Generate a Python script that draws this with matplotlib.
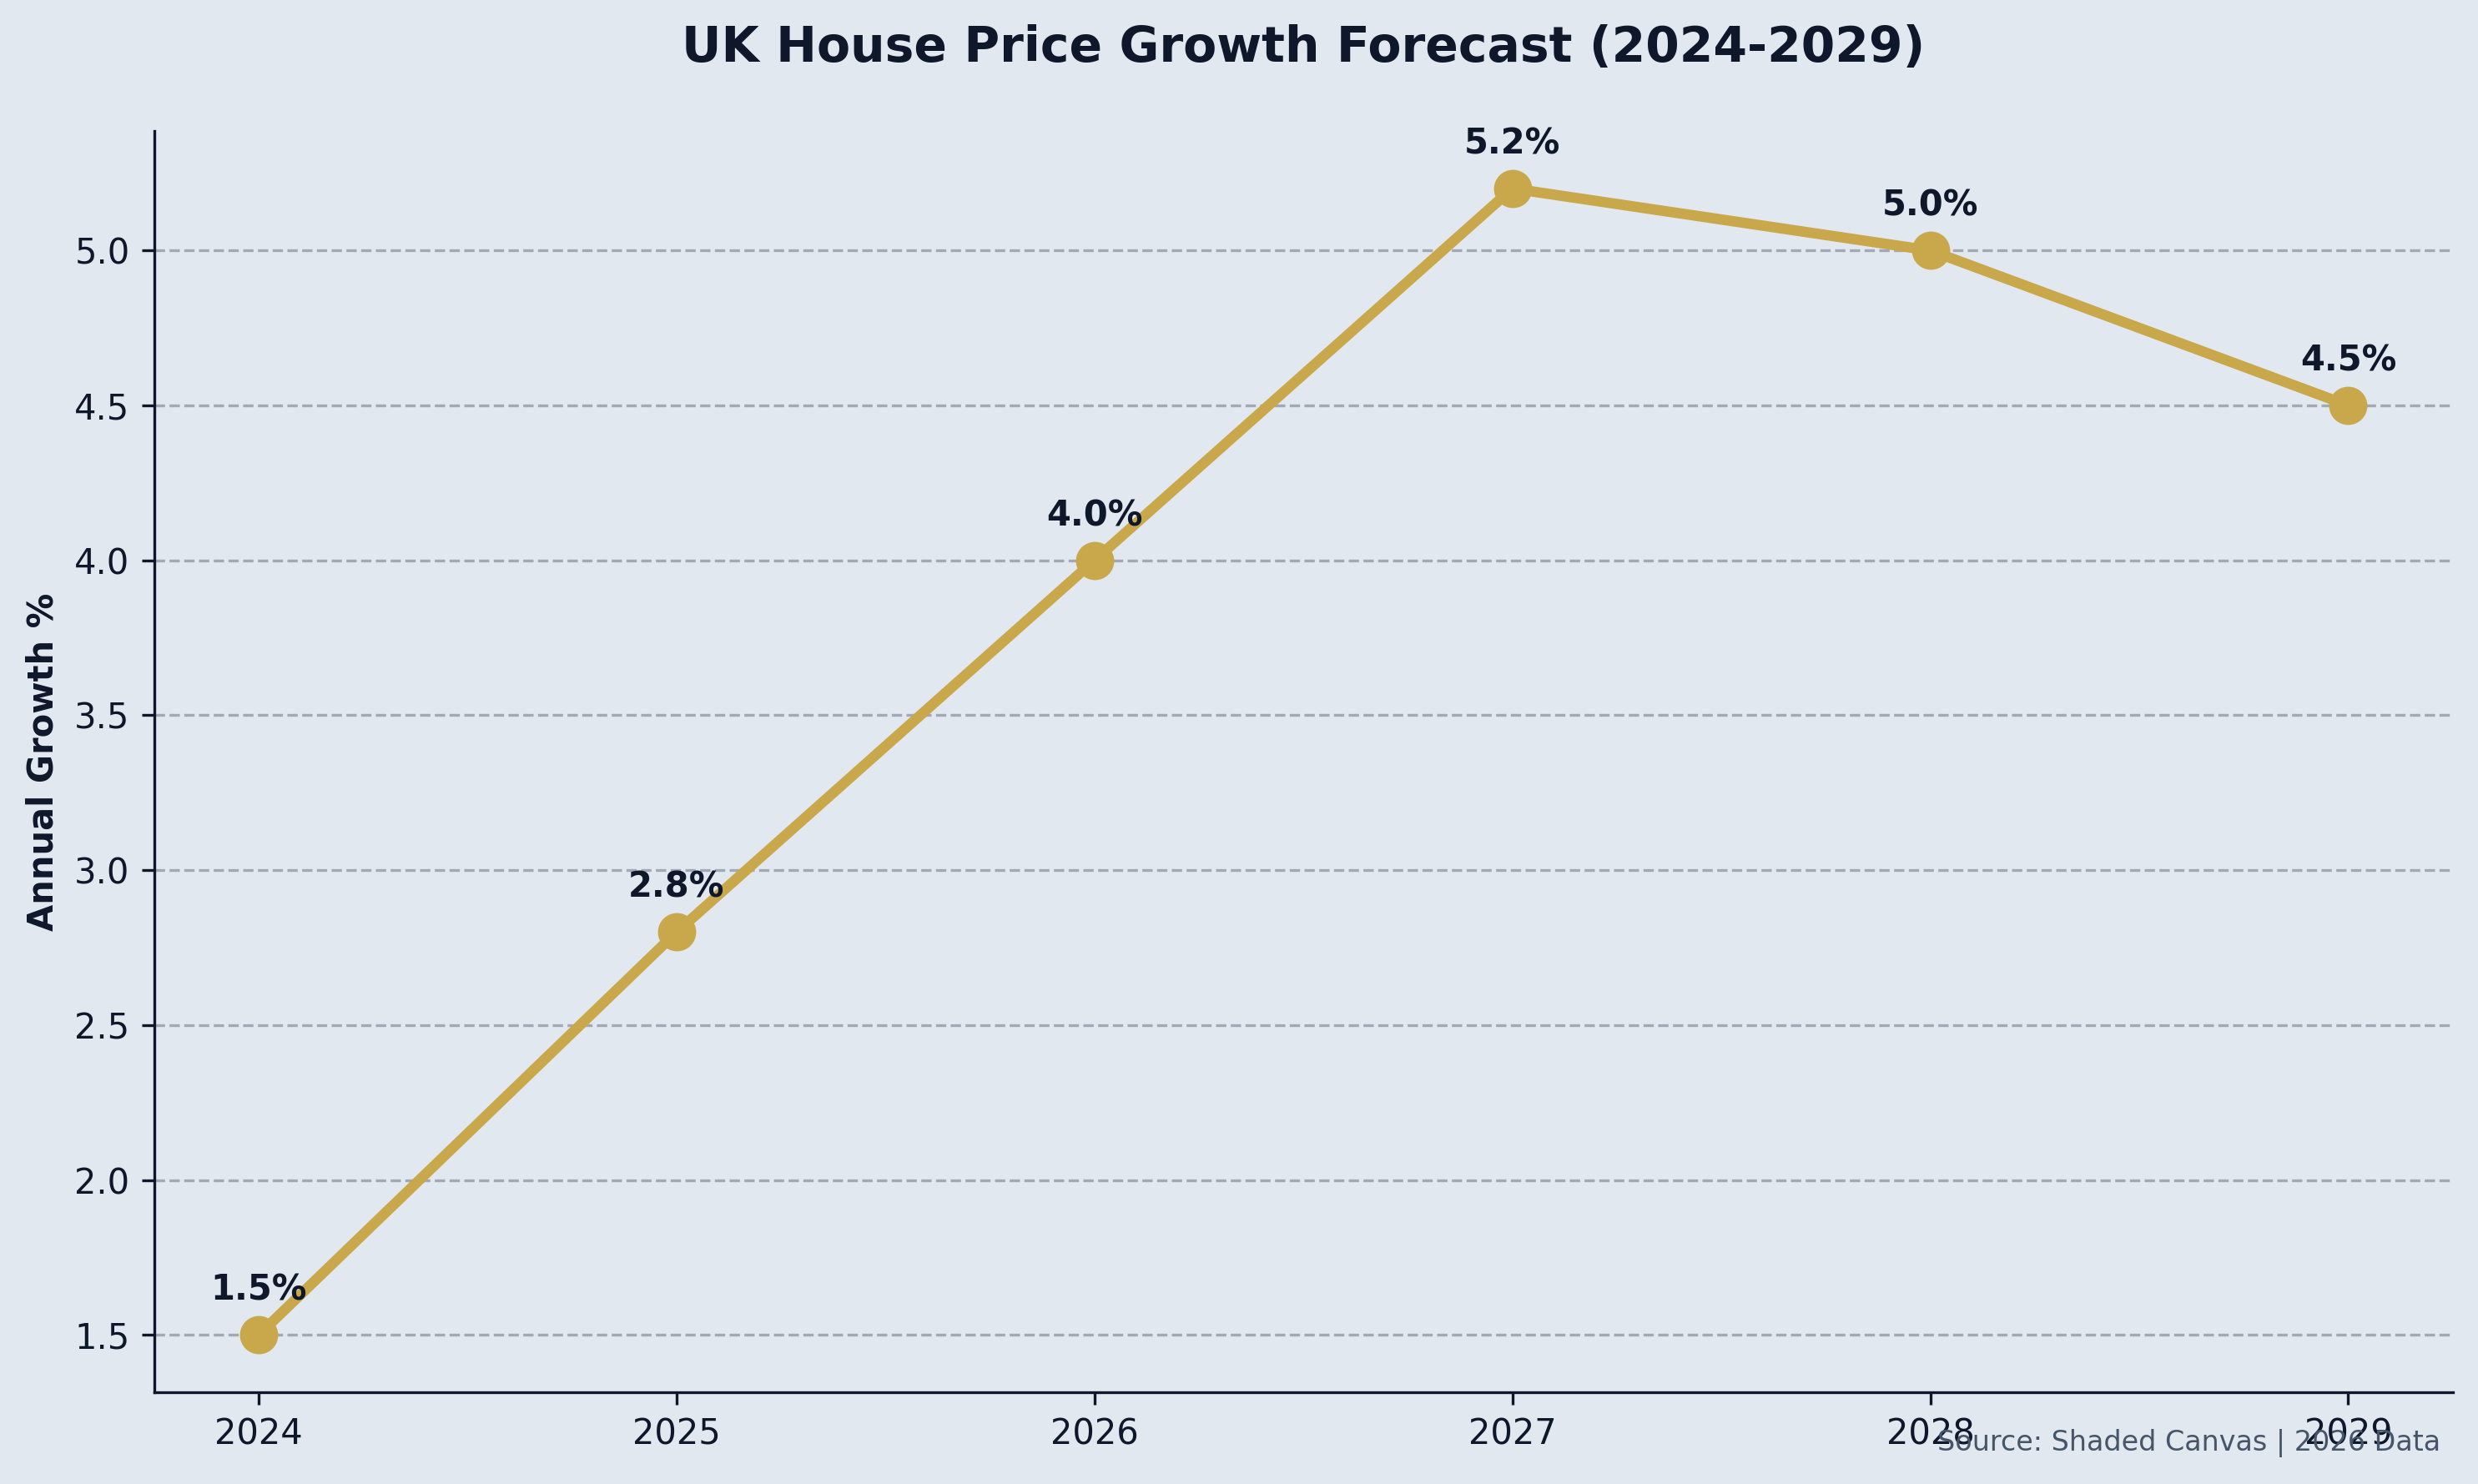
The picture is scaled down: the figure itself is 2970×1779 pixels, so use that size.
import matplotlib.pyplot as plt

years = [2024, 2025, 2026, 2027, 2028, 2029]
growth = [1.5, 2.8, 4.0, 5.2, 5.0, 4.5]
labels = [f'{v:.1f}%' for v in growth]

bg = '#e2e8f0'
ink = '#0f172a'
gold = '#c9a84c'

fig = plt.figure(figsize=(9.9, 5.93), dpi=300, facecolor=bg)
ax = fig.add_axes([0.0622, 0.0618, 0.9276, 0.8498], facecolor=bg)

ax.plot(years, growth, color=gold, linewidth=3, marker='o', markersize=10, zorder=3)

for x, y, lab in zip(years, growth, labels):
    ax.annotate(lab, (x, y), xytext=(0, 10), textcoords='offset points',
                ha='center', fontsize=10, fontweight='bold', color=ink)

ax.set_xticks(years)
ax.set_xticklabels([str(y) for y in years])
ax.tick_params(colors=ink, labelsize=10)
ax.set_ylabel('Annual Growth %', fontsize=10, fontweight='bold', color=ink)
ax.set_title('UK House Price Growth Forecast (2024-2029)', fontsize=14,
             fontweight='bold', color=ink, pad=20)

ax.grid(axis='y', linestyle='--', color=ink, alpha=0.3, linewidth=0.8)
ax.set_axisbelow(True)
for side in ['top', 'right']:
    ax.spines[side].set_visible(False)
for side in ['left', 'bottom']:
    ax.spines[side].set_color(ink)

fig.text(0.985, 0.0275, 'Source: Shaded Canvas | 2026 Data', ha='right',
         va='center', fontsize=8, color='#475569')

plt.savefig('out.png', dpi=300, facecolor=bg)
plt.close()
